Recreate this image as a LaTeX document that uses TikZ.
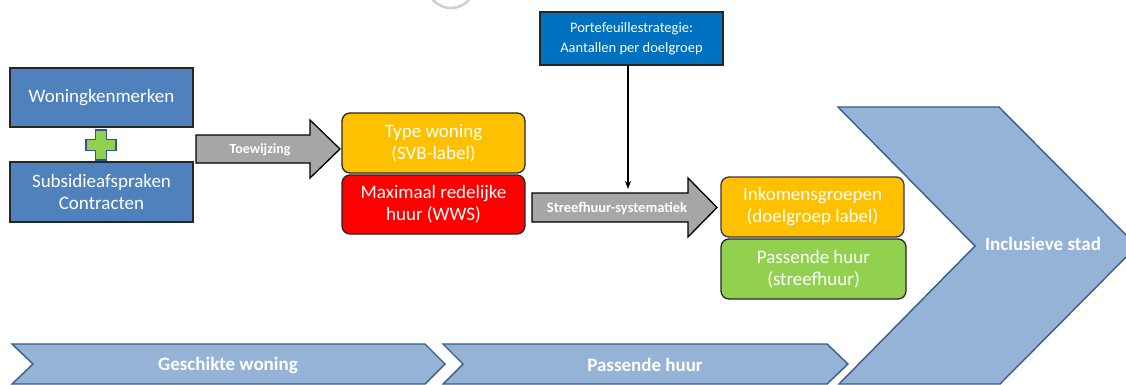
\documentclass[tikz,border=0pt]{standalone}
\usepackage{fontspec}
\setmainfont{Carlito}
\usetikzlibrary{arrows.meta}
\definecolor{boxblue}{HTML}{4F81BD}
\definecolor{portblue}{HTML}{0070C0}
\definecolor{chevfill}{HTML}{95B3D7}
\definecolor{chevline}{HTML}{385D8A}
\definecolor{amber}{HTML}{FFC000}
\definecolor{lgreen}{HTML}{92D050}
\definecolor{arrgrey}{HTML}{A6A6A6}
\definecolor{plusline}{HTML}{2F5597}
\definecolor{purpline}{HTML}{3F3151}
\definecolor{arcgrey}{HTML}{D3CFC8}
\tikzset{
  x=1pt,y=-1pt,
  box/.style={draw=black!85,line width=1.3pt,text=white,align=center,
    minimum width=183pt,minimum height=59pt,inner sep=0pt,
    font=\fontsize{19}{22}\selectfont},
  rbox/.style={box,rounded corners=8pt},
  blockarrow/.style={draw=black,line width=1.3pt,fill=arrgrey,line join=miter},
  arrlabel/.style={text=white,font=\bfseries\fontsize{14}{16}\selectfont},
  chev/.style={draw=chevline,line width=1.4pt,fill=chevfill,line join=miter},
  chevlabel/.style={text=white,font=\bfseries\fontsize{19}{21}\selectfont},
}
\begin{document}
\begin{tikzpicture}
\clip (0,0) rectangle (1126,385);
\fill[white] (0,0) rectangle (1126,385);
% grey arc at the top
\draw[arcgrey,line width=2.5pt] (451,-16) circle (24);
% big chevron
\draw[chev] (838,107) -- (999,107) -- (1137,246) -- (1000,384) -- (839,384) -- (975,246) -- cycle;
\node[chevlabel] (incl) at (1043,244) {Inclusieve stad};
% bottom chevrons
\draw[chev] (12,344) -- (425,344) -- (445,364) -- (425,384) -- (12,384) -- (33,364) -- cycle;
\node[chevlabel] (gesch) at (228,365) {Geschikte woning};
\draw[chev] (443,344) -- (827,344) -- (848,364) -- (827,384) -- (443,384) -- (463,364) -- cycle;
\node[chevlabel] (pash) at (645,365) {Passende huur};
% left boxes
\node[box,fill=boxblue] (wk) at (101.5,97.5) {Woningkenmerken};
\node[box,fill=boxblue,minimum height=60pt] (sub) at (101.5,192) {Subsidieafspraken\\Contracten};
% plus sign
\draw[draw=plusline,line width=1.3pt,fill=lgreen]
  (95.5,130) -- (106.5,130) -- (106.5,139.5) -- (116,139.5) -- (116,150.5) -- (106.5,150.5)
  -- (106.5,160) -- (95.5,160) -- (95.5,150.5) -- (86,150.5) -- (86,139.5) -- (95.5,139.5) -- cycle;
% Toewijzing arrow
\draw[blockarrow] (196,135) -- (310,135) -- (310,120) -- (340,149) -- (310,178) -- (310,163) -- (196,163) -- cycle;
\node[arrlabel] (toew) at (260,150) {Toewijzing};
% middle boxes
\node[rbox,fill=amber,minimum height=60pt] (type) at (433.5,143) {Type woning\\(SVB-label)};
\node[rbox,fill=red] (max) at (433.5,204.5) {Maximaal redelijke\\huur (WWS)};
% Streefhuur arrow
\draw[blockarrow] (532,193) -- (688,193) -- (688,178) -- (717,207.5) -- (688,237) -- (688,222) -- (532,222) -- cycle;
\node[arrlabel,font=\bfseries\fontsize{14.5}{16}\selectfont] (streef) at (617,208) {Streefhuur-systematiek};
% portfolio box
\node[box,fill=portblue,minimum height=53pt,font=\fontsize{14.5}{20}\selectfont] (port) at (631.5,38.5) {Portefeuillestrategie:\\Aantallen per doelgroep};
\coordinate (portend) at (628,189);
\draw[line width=1.4pt,-{Stealth[length=8pt,width=6pt]}] (port.south -| portend) -- (portend);
% right boxes
\node[rbox,fill=amber,draw=purpline,minimum height=60pt] (ink) at (812.5,207) {Inkomensgroepen\\(doelgroep label)};
\node[rbox,fill=lgreen,minimum width=185pt,minimum height=60pt] (pas) at (813.5,269) {Passende huur\\(streefhuur)};
\end{tikzpicture}
\end{document}
